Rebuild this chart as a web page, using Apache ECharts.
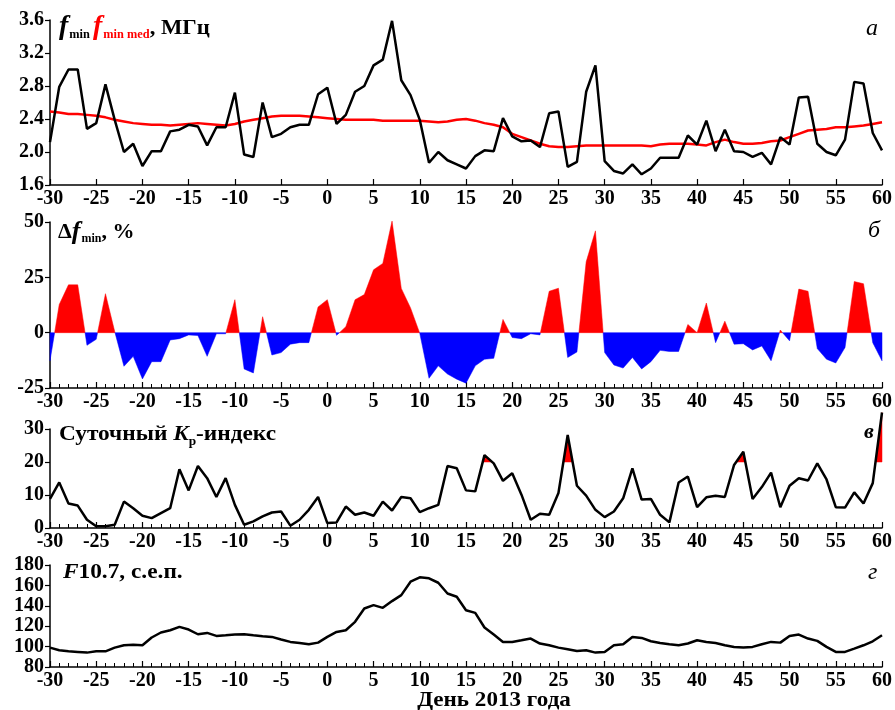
<!DOCTYPE html>
<html><head><meta charset="utf-8">
<script src="https://cdn.jsdelivr.net/npm/echarts@6/dist/echarts.min.js"></script>
<style>html,body{margin:0;padding:0;background:#fff}#c{width:895px;height:710px}</style>
</head><body><div id="c"></div>
<script>
// Days -30..60
const dayStart = -30, dayEnd = 60;
const fmin = [2.12,2.79,3.00,3.00,2.28,2.35,2.82,2.39,2.00,2.10,1.83,2.01,2.01,2.25,2.27,2.33,2.31,2.08,2.30,2.30,
  2.72,1.97,1.94,2.60,2.18,2.22,2.30,2.33,2.33,2.70,2.78,2.34,2.45,2.73,2.80,3.05,3.12,3.59,2.87,2.69,
  2.39,1.87,2.00,1.90,1.85,1.80,1.95,2.02,2.01,2.41,2.19,2.13,2.14,2.06,2.47,2.49,1.82,1.88,2.73,3.05,
  1.89,1.77,1.74,1.85,1.73,1.80,1.93,1.93,1.93,2.20,2.09,2.38,2.01,2.27,2.01,2.00,1.94,1.99,1.85,2.18,
  2.09,2.66,2.67,2.10,2.00,1.96,2.15,2.85,2.83,2.23,2.02];
const fminMed = [2.49,2.48,2.46,2.46,2.45,2.44,2.42,2.39,2.37,2.35,2.34,2.33,2.33,2.32,2.33,2.34,2.35,2.34,2.33,2.32,
  2.34,2.37,2.39,2.41,2.43,2.44,2.44,2.44,2.43,2.42,2.41,2.40,2.39,2.39,2.39,2.39,2.38,2.38,2.38,2.38,
  2.38,2.37,2.36,2.37,2.39,2.40,2.38,2.35,2.33,2.30,2.22,2.18,2.14,2.10,2.07,2.06,2.06,2.07,2.08,2.08,
  2.08,2.08,2.08,2.08,2.08,2.07,2.09,2.10,2.10,2.10,2.09,2.08,2.12,2.15,2.12,2.10,2.10,2.11,2.13,2.14,
  2.18,2.22,2.26,2.27,2.28,2.30,2.30,2.31,2.32,2.34,2.36];
const dfmin = [-12.7,12.7,21.6,21.6,-5.7,-3.0,17.6,0.5,-15.2,-10.7,-20.9,-13.1,-13.1,-3.3,-2.7,-1.0,-1.3,-10.7,-0.5,-0.5,
  14.9,-16.4,-18.2,7.2,-10.1,-9.0,-5.2,-4.5,-4.5,11.6,14.9,-1.2,2.7,14.9,17.2,28.4,31.3,50.4,20.0,11.2,
  -0.3,-20.6,-15.0,-18.7,-21.0,-22.8,-15.0,-12.0,-11.6,6.0,-2.2,-2.7,-0.5,-1.0,18.7,20.1,-11.2,-8.7,32.0,46.0,
  -9.0,-14.6,-16.0,-11.2,-16.4,-13.1,-8.0,-8.5,-8.5,3.7,0.0,13.4,-4.5,5.2,-5.2,-5.0,-7.8,-6.0,-12.7,1.2,
  -3.7,19.7,18.7,-7.2,-12.0,-13.7,-6.7,23.1,22.1,-4.5,-12.7];
const kp = [8.8,13.8,7.4,6.8,2.5,0.5,0.5,1.0,8.0,6.0,3.7,3.0,4.5,6.0,17.8,11.4,18.8,15.1,9.4,15.1,
  7.0,1.0,2.0,3.5,4.7,5.0,0.7,2.5,5.5,9.4,1.5,1.7,6.5,4.0,4.7,3.7,8.0,5.3,9.4,9.0,
  4.8,6.0,7.0,18.8,18.1,11.4,11.1,22.1,19.6,14.3,16.6,10.1,2.5,4.3,4.0,10.6,28.2,12.8,9.8,5.5,
  3.3,5.0,9.0,18.1,8.6,8.8,4.0,1.7,13.8,15.6,6.3,9.3,9.8,9.4,19.1,23.1,8.8,12.4,16.8,6.3,
  12.8,15.1,14.4,19.6,14.7,6.3,6.2,10.8,7.4,13.6,35.0];
const f107 = [99,96.4,95.4,94.8,94.1,95.4,95.4,99,101.3,101.9,101.3,108.9,113.8,116,119.3,116.7,112.1,113.4,110.5,111.1,
  111.8,112.1,111.1,110.2,109.5,106.9,104.6,103.6,102.3,103.9,109.5,114.4,116,124.3,137.4,140.7,138,144.6,150.5,163.6,
  167.9,166.9,162.6,152.1,148.9,135.7,133.1,118.7,111.8,104.6,104.6,106.2,107.9,103,101.3,99,97.4,95.7,96.4,94.1,
  94.8,101.3,102.3,109.5,108.5,105.2,103.6,102.3,101.3,103,106.2,104.6,103.6,101.3,99.7,99,99.7,102.3,104.6,103.9,
  110.5,111.8,107.9,105.6,99.7,94.8,94.8,98,101.3,105.2,111.1];
const kpThreshold = 20;

const days = [];
for (let d = dayStart; d <= dayEnd; d++) days.push(d);
const pairs = arr => arr.map((v, i) => [days[i], v]);

const FONT = '"Liberation Serif","Times New Roman",serif';
const lbl = { fontFamily: FONT, fontWeight: 'bold', fontSize: 20, color: '#000' };

// Fill between a series and a baseline, one polygon per same-sign run (pixel geometry via api.coord)
function bandRenderer(values, base, colAbove, colBelow) {
  return function (params, api) {
    if (params.dataIndex !== 0) return null;
    const yb = api.coord([days[0], base])[1];
    const runs = [];
    let run = null;
    const sgn = d => (d > 0 ? 1 : d < 0 ? -1 : 0);
    for (let i = 0; i < values.length; i++) {
      const p = api.coord([days[i], values[i]]);
      const s = sgn(values[i] - base);
      if (!run) { run = { sign: s, pts: [p] }; continue; }
      if (run.sign === 0 && s !== 0) run.sign = s;
      if (s !== 0 && run.sign !== 0 && s !== run.sign) {
        const prev = run.pts[run.pts.length - 1];
        const dPrev = values[i - 1] - base, dCur = values[i] - base;
        const t = dPrev / (dPrev - dCur);
        const c = [prev[0] + t * (p[0] - prev[0]), yb];
        run.pts.push(c);
        runs.push(run);
        run = { sign: s, pts: [c, p] };
      } else {
        run.pts.push(p);
      }
    }
    if (run) runs.push(run);
    const children = [];
    runs.forEach(r => {
      const col = r.sign > 0 ? colAbove : colBelow;
      if (!col || r.pts.length < 2) return;
      const pts = r.pts.slice();
      pts.push([pts[pts.length - 1][0], yb]);
      pts.push([pts[0][0], yb]);
      children.push({ type: 'polygon', shape: { points: pts }, style: { fill: col, stroke: col, lineWidth: 0.5 } });
    });
    return { type: 'group', children };
  };
}

const grids = [
  { left: 50, right: 12, top: 20, height: 165 },
  { left: 50, right: 12, top: 222, height: 166 },
  { left: 50, right: 12, top: 429, height: 99 },
  { left: 50, right: 12, top: 565, height: 102 }
];
function xAx(i, minor) {
  return {
    type: 'value', gridIndex: i, min: -30, max: 60, interval: 5,
    axisLine: { onZero: false, lineStyle: { color: '#000', width: 1.5 } },
    axisTick: { inside: true, length: 6, lineStyle: { color: '#000', width: 1.2 } },
    minorTick: { show: minor, splitNumber: 5, length: 4, lineStyle: { color: '#000', width: 1 } },
    axisLabel: Object.assign({ margin: 4, showMinLabel: true, showMaxLabel: true, hideOverlap: false }, lbl),
    splitLine: { show: false }
  };
}
function yAx(i, min, max, interval, fmt) {
  return {
    type: 'value', gridIndex: i, min, max, interval,
    axisLine: { show: true, onZero: false, lineStyle: { color: '#000', width: 1.5 } },
    axisTick: { show: true, inside: false, length: 5, lineStyle: { color: '#000', width: 1.2 } },
    axisLabel: Object.assign({ margin: 6, formatter: fmt, showMinLabel: true, showMaxLabel: true, hideOverlap: false }, lbl),
    splitLine: { show: false }
  };
}

const option = {
  animation: false,
  backgroundColor: '#fff',
  grid: grids,
  xAxis: [xAx(0, false), xAx(1, true), xAx(2, true), xAx(3, true)],
  yAxis: [
    yAx(0, 1.6, 3.6, 0.4, v => v.toFixed(1)),
    yAx(1, -25, 50, 25),
    yAx(2, 0, 30, 10),
    yAx(3, 80, 180, 20)
  ],
  series: [
    { type: 'line', xAxisIndex: 0, yAxisIndex: 0, data: pairs(fminMed), symbol: 'none', z: 3,
      lineStyle: { color: '#ff0000', width: 2.5 } },
    { type: 'line', xAxisIndex: 0, yAxisIndex: 0, data: pairs(fmin), symbol: 'none', z: 4,
      lineStyle: { color: '#000', width: 2.5 } },
    { type: 'custom', xAxisIndex: 1, yAxisIndex: 1, data: pairs(dfmin), clip: false,
      renderItem: bandRenderer(dfmin, 0, '#ff0000', '#0000ff') },
    { type: 'custom', xAxisIndex: 2, yAxisIndex: 2, data: pairs(kp), clip: false, z: 2,
      renderItem: bandRenderer(kp, kpThreshold, '#ff0000', null) },
    { type: 'line', xAxisIndex: 2, yAxisIndex: 2, data: pairs(kp), symbol: 'none', clip: false, z: 4,
      lineStyle: { color: '#000', width: 2.5 } },
    { type: 'line', xAxisIndex: 3, yAxisIndex: 3, data: pairs(f107), symbol: 'none',
      lineStyle: { color: '#000', width: 2.5 } }
  ],
  graphic: [
    { type: 'text', left: 59, top: 14, z: 10, scaleX: 1.03, style: {
      text: '{f|f}{s|min}{rf|f}{rs|min med}{t|, МГц}',
      rich: {
        f: { fontFamily: FONT, fontStyle: 'italic', fontWeight: 'bold', fontSize: 27, fill: '#000', verticalAlign: 'bottom' },
        s: { fontFamily: FONT, fontWeight: 'bold', fontSize: 12, fill: '#000', verticalAlign: 'bottom', padding: [0, 3, 0, 1] },
        rf: { fontFamily: FONT, fontStyle: 'italic', fontWeight: 'bold', fontSize: 27, fill: '#ff0000', verticalAlign: 'bottom' },
        rs: { fontFamily: FONT, fontWeight: 'bold', fontSize: 12, fill: '#ff0000', verticalAlign: 'bottom', padding: [0, 0, 0, 1] },
        t: { fontFamily: FONT, fontWeight: 'bold', fontSize: 22, fill: '#000', verticalAlign: 'bottom', padding: [0, 0, 2, 0] }
      } } },
    { type: 'text', left: 58, top: 219, z: 10, style: {
      text: '{d|Δ}{f|f}{s|min}{t|, %}',
      rich: {
        d: { fontFamily: FONT, fontWeight: 'bold', fontSize: 22, fill: '#000', verticalAlign: 'bottom', padding: [0, 0, 2, 0] },
        f: { fontFamily: FONT, fontStyle: 'italic', fontWeight: 'bold', fontSize: 26, fill: '#000', verticalAlign: 'bottom' },
        s: { fontFamily: FONT, fontWeight: 'bold', fontSize: 12, fill: '#000', verticalAlign: 'bottom', padding: [0, 0, 0, 1] },
        t: { fontFamily: FONT, fontWeight: 'bold', fontSize: 22, fill: '#000', verticalAlign: 'bottom', padding: [0, 0, 2, 0] }
      } } },
    { type: 'text', left: 59, top: 424, z: 10, scaleX: 1.11, style: {
      text: '{t|Суточный }{k|K}{s|p}{t|-индекс}',
      rich: {
        t: { fontFamily: FONT, fontWeight: 'bold', fontSize: 21, fill: '#000', verticalAlign: 'bottom', padding: [0, 0, 3, 0] },
        k: { fontFamily: FONT, fontStyle: 'italic', fontWeight: 'bold', fontSize: 21, fill: '#000', verticalAlign: 'bottom', padding: [0, 0, 3, 0] },
        s: { fontFamily: FONT, fontWeight: 'bold', fontSize: 12, fill: '#000', verticalAlign: 'bottom', padding: [0, 0, 0, 0] }
      } } },
    { type: 'text', left: 63, top: 561, z: 10, scaleX: 1.06, style: {
      text: '{f|F}{t|10.7, с.е.п.}',
      rich: {
        f: { fontFamily: FONT, fontStyle: 'italic', fontWeight: 'bold', fontSize: 22, fill: '#000' },
        t: { fontFamily: FONT, fontWeight: 'bold', fontSize: 22, fill: '#000' }
      } } },
    { type: 'text', left: 866, top: 17, z: 10, style: { text: 'а', font: 'italic 24px ' + FONT, fill: '#000' } },
    { type: 'text', left: 868, top: 219, z: 10, style: { text: 'б', font: 'italic 24px ' + FONT, fill: '#000' } },
    { type: 'text', left: 864, top: 421, z: 10, style: { text: 'в', font: 'italic bold 22px ' + FONT, fill: '#000' } },
    { type: 'text', left: 868, top: 561, z: 10, style: { text: 'г', font: 'italic 24px ' + FONT, fill: '#000' } },
    { type: 'text', x: 494, y: 700, z: 10, scaleX: 1.05, style: { text: 'День 2013 года', font: 'bold 22px ' + FONT, fill: '#000', align: 'center', verticalAlign: 'middle' } }
  ]
};
echarts.init(document.getElementById('c'), null, { renderer: 'canvas' }).setOption(option);
</script></body></html>
